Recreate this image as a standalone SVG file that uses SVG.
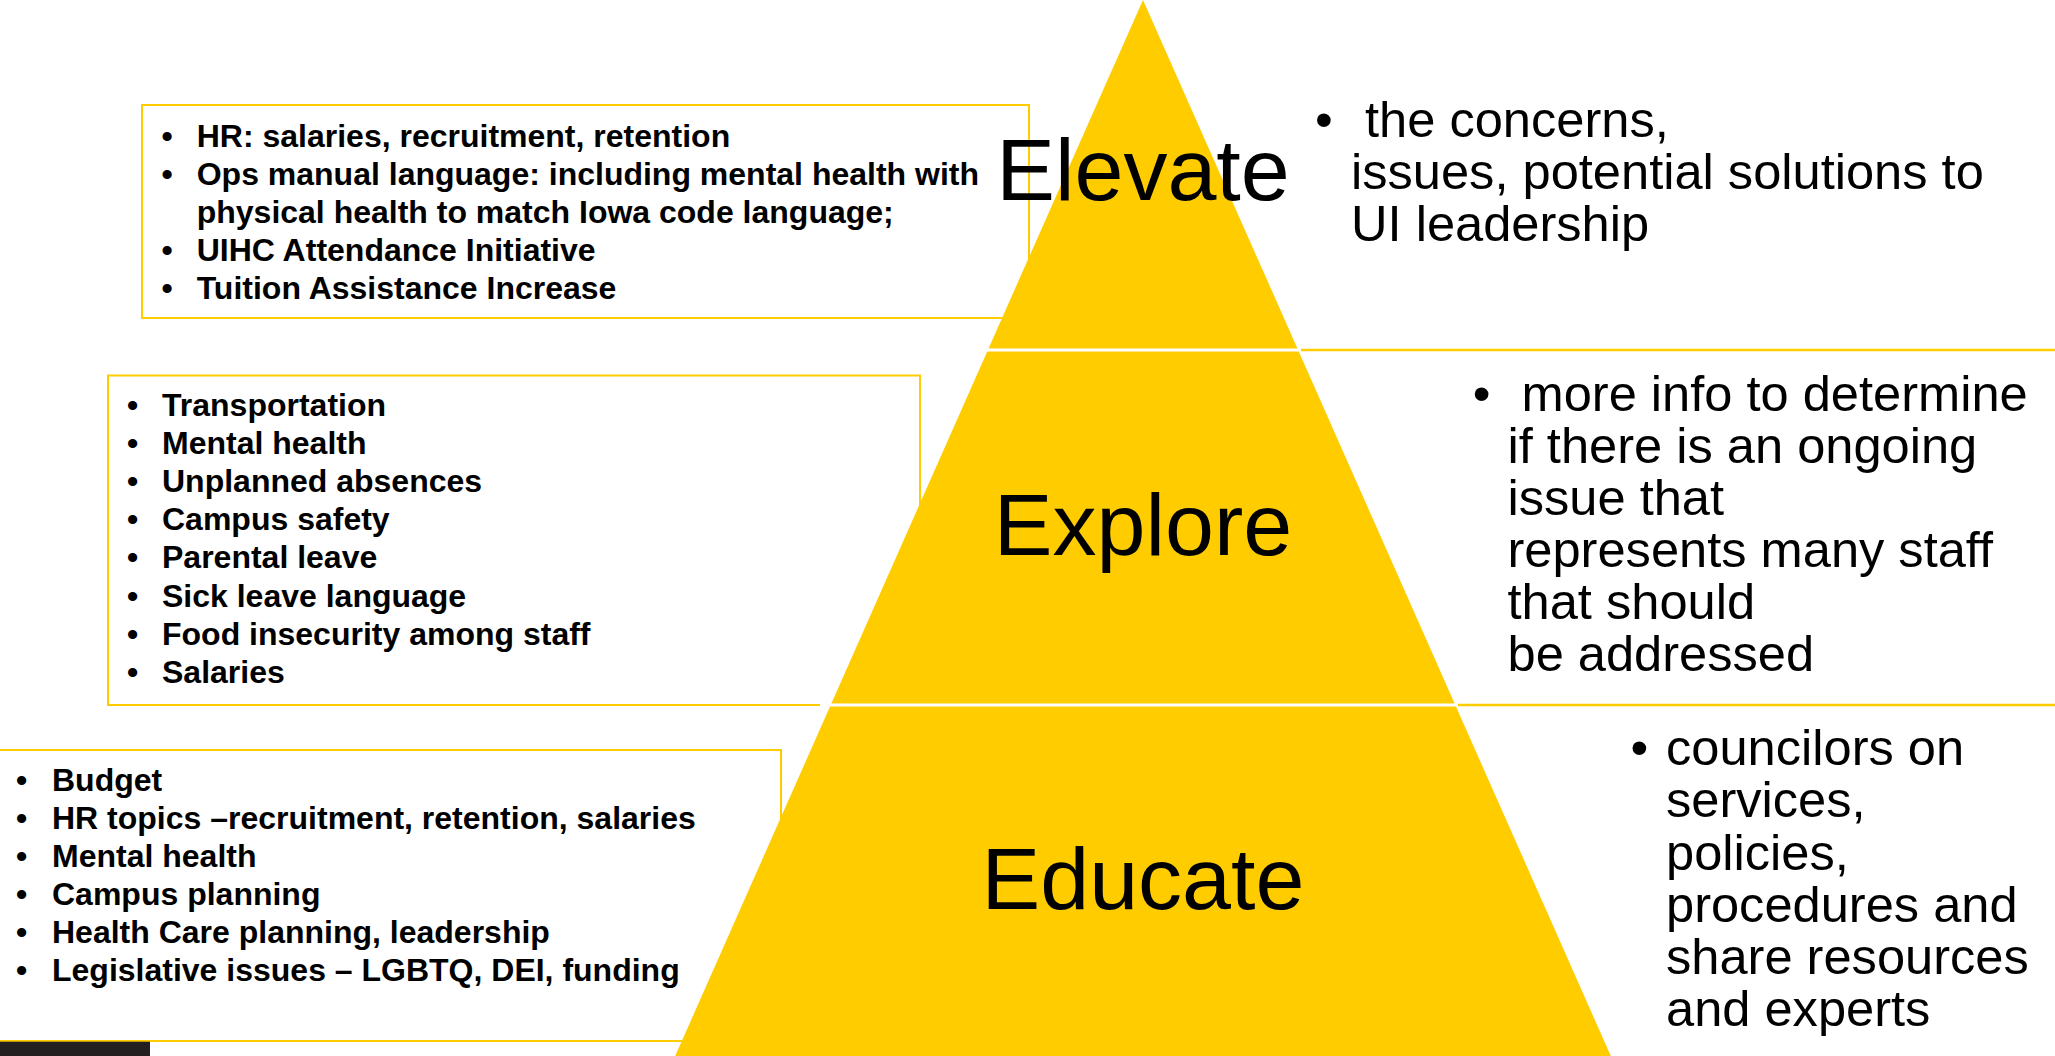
<svg xmlns="http://www.w3.org/2000/svg" width="2055" height="1056" viewBox="0 0 2055 1056">
<style>
.box{fill:#fff;stroke:#FFCC00;stroke-width:2}
.tier{fill:#FFCC00}
.sep{stroke:#FFCC00;stroke-width:2.5}
.gap{stroke:#fff;stroke-width:3}
.list{font-family:"Liberation Sans",Arial,sans-serif;font-weight:bold;font-size:32px;fill:#000}
.desc{font-family:"Liberation Sans",Arial,sans-serif;font-size:50.6px;fill:#000}
.label{font-family:"Liberation Sans",Arial,sans-serif;font-size:88px;fill:#000;text-anchor:middle}
</style>
<rect width="2055" height="1056" fill="#fff"/>

<g id="box-elevate">
<rect class="box" x="142" y="105" width="887" height="213"/>
<g class="list">
<text x="161.4" y="146.5">•</text><text x="196.7" y="146.5">HR: salaries, recruitment, retention</text>
<text x="161.4" y="184.5">•</text><text x="196.7" y="184.5">Ops manual language: including mental health with</text>
<text x="196.7" y="222.5">physical health to match Iowa code language;</text>
<text x="161.4" y="260.5">•</text><text x="196.7" y="260.5">UIHC Attendance Initiative</text>
<text x="161.4" y="298.5">•</text><text x="196.7" y="298.5">Tuition Assistance Increase</text>
</g>
</g>

<g id="box-explore">
<rect class="box" x="108" y="375.5" width="812" height="329.5"/>
<g class="list">
<text x="127" y="416">•</text><text x="162" y="416">Transportation</text>
<text x="127" y="454.1">•</text><text x="162" y="454.1">Mental health</text>
<text x="127" y="492.2">•</text><text x="162" y="492.2">Unplanned absences</text>
<text x="127" y="530.3">•</text><text x="162" y="530.3">Campus safety</text>
<text x="127" y="568.4">•</text><text x="162" y="568.4">Parental leave</text>
<text x="127" y="606.5">•</text><text x="162" y="606.5">Sick leave language</text>
<text x="127" y="644.6">•</text><text x="162" y="644.6">Food insecurity among staff</text>
<text x="127" y="682.7">•</text><text x="162" y="682.7">Salaries</text>
</g>
</g>

<g id="box-educate">
<rect class="box" x="-5" y="750" width="786" height="291"/>
<g class="list">
<text x="16" y="790.5">•</text><text x="52" y="790.5">Budget</text>
<text x="16" y="828.5">•</text><text x="52" y="828.5">HR topics –recruitment, retention, salaries</text>
<text x="16" y="866.5">•</text><text x="52" y="866.5">Mental health</text>
<text x="16" y="904.5">•</text><text x="52" y="904.5">Campus planning</text>
<text x="16" y="942.5">•</text><text x="52" y="942.5">Health Care planning, leadership</text>
<text x="16" y="980.5">•</text><text x="52" y="980.5">Legislative issues – LGBTQ, DEI, funding</text>
</g>
</g>

<g id="tier-elevate">
<polygon class="tier" points="1143,0 1298.1,350 987.9,350"/>
<text class="label" x="1143" y="200">Elevate</text>
</g>
<g id="tier-explore">
<polygon class="tier" points="987.9,350 1298.1,350 1455.3,705 830.7,705"/>
<text class="label" x="1143" y="555">Explore</text>
</g>
<g id="tier-educate">
<polygon class="tier" points="830.7,705 1455.3,705 1630.3,1100 655.7,1100"/>
<text class="label" x="1143" y="909">Educate</text>
</g>

<g id="separators">
<line class="gap" x1="980" y1="350" x2="1300" y2="350"/>
<line class="gap" x1="820" y1="705" x2="1457" y2="705"/>
<line class="sep" x1="1301" y1="350" x2="2055" y2="350"/>
<line class="sep" x1="1458" y1="705" x2="2055" y2="705"/>
</g>

<g id="desc-elevate" class="desc">
<text x="1315" y="136.5">•</text>
<text x="1365" y="136.5">the concerns,</text>
<text x="1351" y="188.5">issues, potential solutions to</text>
<text x="1351" y="240.5">UI leadership</text>
</g>

<g id="desc-explore" class="desc">
<text x="1472.7" y="411">•</text>
<text x="1521.5" y="411">more info to determine</text>
<text x="1507.5" y="463">if there is an ongoing</text>
<text x="1507.5" y="515">issue that</text>
<text x="1507.5" y="567">represents many staff</text>
<text x="1507.5" y="619">that should</text>
<text x="1507.5" y="671">be addressed</text>
</g>

<g id="desc-educate" class="desc">
<text x="1630.5" y="765">•</text>
<text x="1666" y="765">councilors on</text>
<text x="1666" y="817">services,</text>
<text x="1666" y="869.5">policies,</text>
<text x="1666" y="921.5">procedures and</text>
<text x="1666" y="974">share resources</text>
<text x="1666" y="1026">and experts</text>
</g>

<rect id="corner-bar" x="0" y="1041.7" width="150" height="14.3" fill="#231F20"/>
</svg>
